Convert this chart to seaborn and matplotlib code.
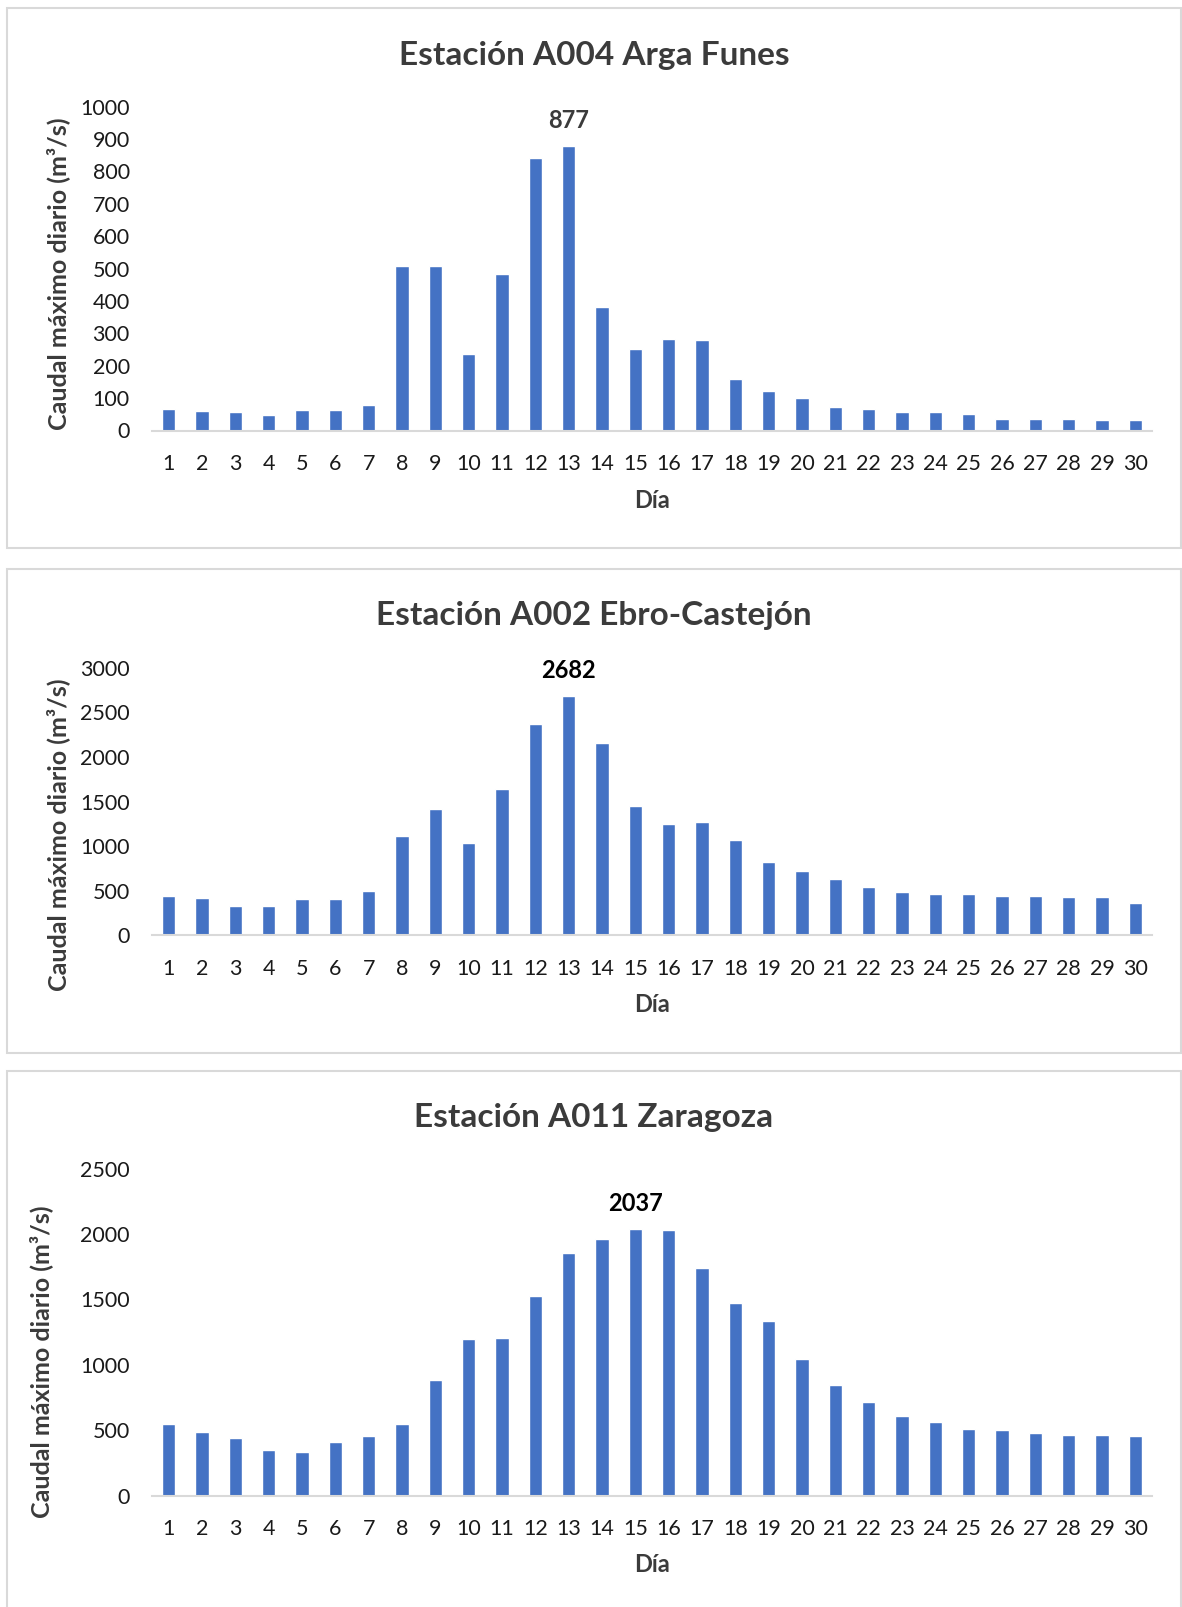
import matplotlib
matplotlib.use("Agg")
import matplotlib.pyplot as plt
from matplotlib.patches import Rectangle
import seaborn as sns
import pandas as pd

sns.set_theme(style="white")
plt.rcParams["font.family"] = ["Lato", "DejaVu Sans"]

days = [str(d) for d in range(1, 31)]

arga_funes = [65, 60, 56, 47, 63, 63, 80, 507, 507, 237,
              482, 840, 877, 381, 251, 282, 278, 159, 123, 100,
              74, 67, 58, 56, 52, 36, 34, 36, 31, 32]

ebro_castejon = [436, 417, 331, 323, 409, 409, 496, 1108, 1420, 1033,
                 1638, 2370, 2682, 2160, 1454, 1243, 1270, 1063, 823, 718,
                 631, 537, 488, 466, 458, 436, 436, 432, 428, 361]

zaragoza = [550, 485, 437, 349, 332, 413, 456, 544, 885, 1198,
            1206, 1525, 1853, 1962, 2037, 2029, 1737, 1469, 1332, 1046,
            845, 716, 611, 560, 509, 501, 480, 466, 466, 456]

titles = ["Estación A004 Arga Funes",
          "Estación A002 Ebro-Castejón",
          "Estación A011 Zaragoza"]
series = [arga_funes, ebro_castejon, zaragoza]
y_max = [1000, 3000, 2500]
y_step = [100, 500, 500]
peak_day = [13, 13, 15]

BAR = "#4472C4"
TXT = "#1a1a1a"
TITLE = "#3b3b3b"
GRID = "#D9D9D9"

W, H = 1182, 1607
fig = plt.figure(figsize=(W / 100, H / 100), dpi=100)

# per panel, in pixels from the top: frame top/bottom, axes top/bottom,
# title y, x-label y, y-label x, y-label vertical fraction, annotation colour
layout = [
    (8, 548, 106.6, 430.5, 55, 500, 58, 0.483, "#3b3b3b"),
    (569, 1053, 668, 935, 615.5, 1004.6, 58, 0.376, "#000000"),
    (1071, 1640, 1168.6, 1495.6, 1117, 1565, 41, 0.41, "#000000"),
]

ax_left, ax_right = 152, 1152

for i, (vals, title) in enumerate(zip(series, titles)):
    box_top, box_bot, a_top, a_bot, t_y, xl_y, yl_x, yl_y, ann_col = layout[i]

    # light frame around each chart
    fig.patches.append(Rectangle((7 / W, 1 - box_bot / H), (1181 - 7) / W,
                                 (box_bot - box_top) / H, transform=fig.transFigure,
                                 fill=False, edgecolor=GRID, linewidth=1.5))

    ax = fig.add_axes([ax_left / W, 1 - a_bot / H,
                       (ax_right - ax_left) / W, (a_bot - a_top) / H])
    df = pd.DataFrame({"Día": days, "Caudal": vals})
    sns.barplot(data=df, x="Día", y="Caudal", color=BAR, width=0.4,
                saturation=1, ax=ax)

    ax.set_xlim(-0.5, 29.5)
    ax.set_ylim(0, y_max[i])
    ax.set_yticks(range(0, y_max[i] + 1, y_step[i]))
    for s in ["top", "right", "left"]:
        ax.spines[s].set_visible(False)
    ax.spines["bottom"].set_color(GRID)
    ax.spines["bottom"].set_linewidth(1.5)
    ax.tick_params(axis="both", length=0, labelsize=15.5, colors=TXT)
    ax.tick_params(axis="y", pad=16)
    ax.tick_params(axis="x", pad=17)

    ax.set_xlabel("Día", fontsize=17, fontweight="bold", color=TITLE)
    ax.xaxis.set_label_coords(0.5, -(xl_y - a_bot) / (a_bot - a_top))
    ax.xaxis.label.set_verticalalignment("center")
    ax.set_ylabel("Caudal máximo diario (m³/s)", fontsize=18,
                  fontweight="bold", color=TITLE)
    ax.yaxis.set_label_coords((yl_x - ax_left) / (ax_right - ax_left), yl_y)
    ax.yaxis.label.set_verticalalignment("center")

    k = peak_day[i] - 1
    ax.annotate(str(vals[k]), xy=(k, vals[k]), xytext=(0, 26),
                textcoords="offset pixels", ha="center", va="center",
                fontsize=17, fontweight="bold", color=ann_col)

    fig.text(594 / W, 1 - t_y / H, title, ha="center", va="center",
             fontsize=24, fontweight="bold", color=TITLE)

fig.savefig("out.png", dpi=100, facecolor="white")
